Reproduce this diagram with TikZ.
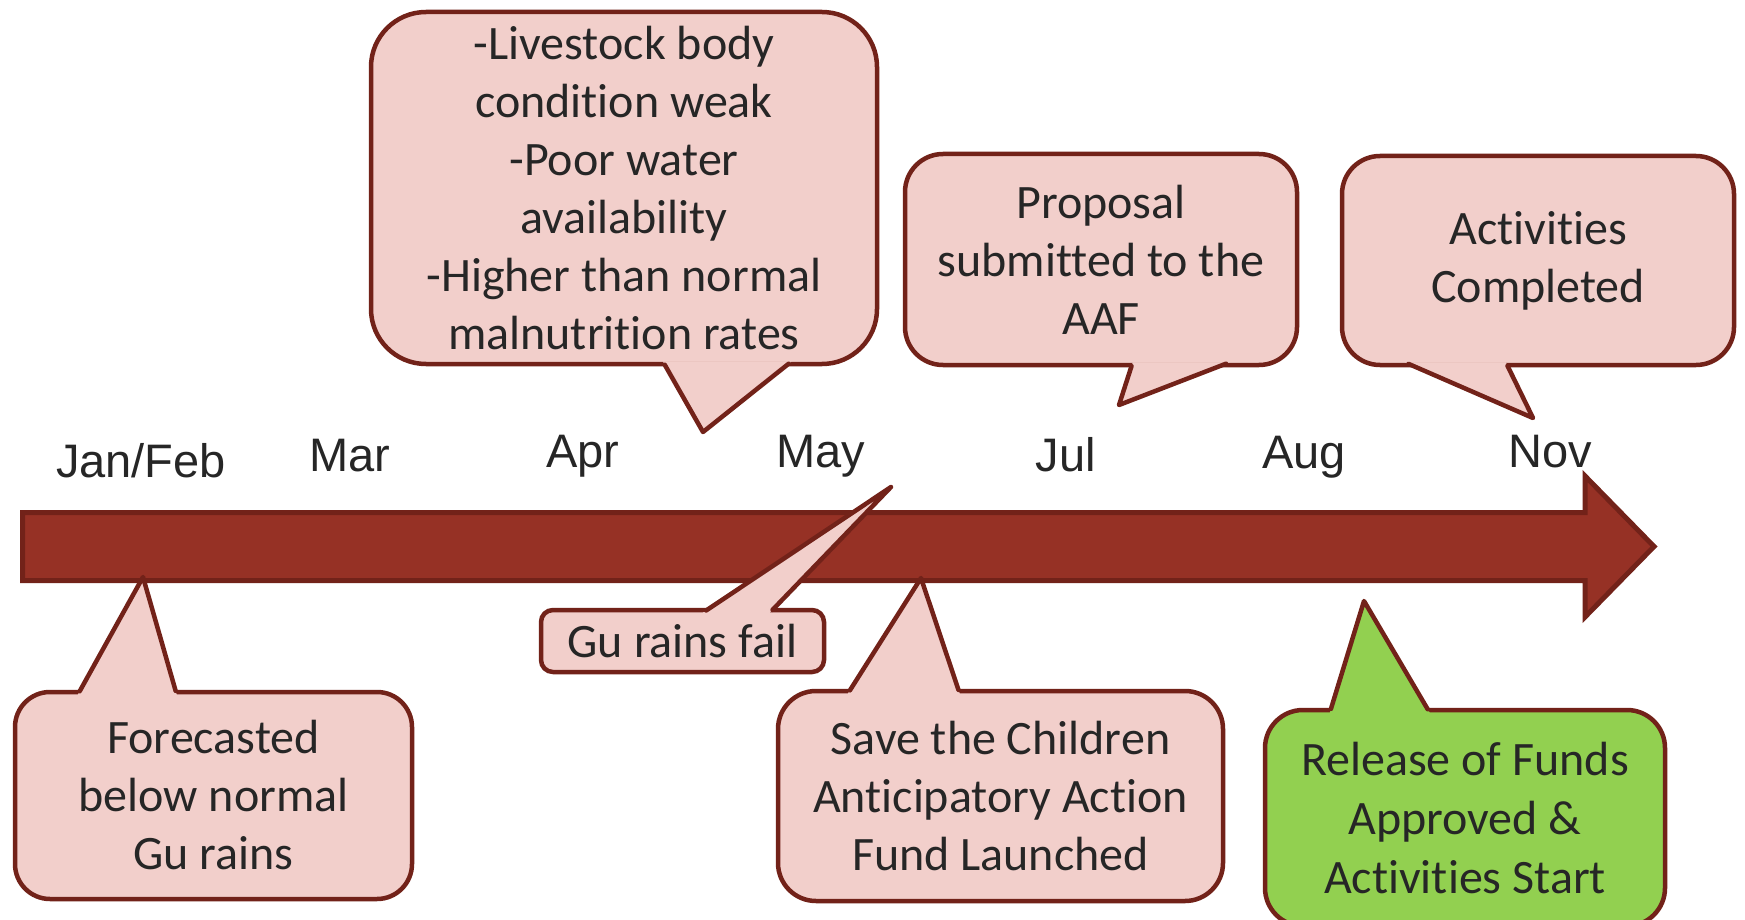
\documentclass[tikz,border=0pt]{standalone}
\usepackage{fontspec}
\setmainfont{Carlito}[Ligatures=NoCommon]
\newfontfamily\monthfont{Liberation Sans}
\definecolor{bubblepink}{HTML}{F2CFCB}
\definecolor{bubblegreen}{HTML}{92D050}
\definecolor{edgebrown}{HTML}{722219}
\definecolor{arrowred}{HTML}{963125}
\definecolor{textgray}{HTML}{262626}
% tail of a speech bubble: base point, tip, base point, fill colour
\newcommand{\bubbletail}[4]{%
  \fill[#4] #1 -- #2 -- #3 -- cycle;
  \draw[tailedge] #1 -- #2 -- #3;
}

\begin{document}
\begin{tikzpicture}[x=1pt,y=-1pt,
    bubble/.style={draw=edgebrown, fill=bubblepink, line width=4.5pt,
      rounded corners=38pt, inner sep=0pt, align=center, text=textgray,
      font=\fontsize{48}{58}\selectfont},
    tailedge/.style={draw=edgebrown, line width=4.5pt, line cap=round,
      line join=round, shorten <=4pt, shorten >=4pt},
    month/.style={anchor=base, text=textgray,
      font=\monthfont\fontsize{47}{56}\selectfont}]
    \useasboundingbox (0,0) rectangle (1745,920);
    % Draw the time arrow
    \draw[line width=5pt, draw=edgebrown, fill=arrowred, line join=miter]
      (22.5,512.5) -- (1585,512.5) -- (1585,476) -- (1654,546.5)
      -- (1585,617) -- (1585,580.5) -- (22.5,580.5) -- cycle;
    % Label the months
    \node[month] (janfeb) at (141,477) {Jan/Feb};
    \node[month] (mar) at (350,471) {Mar};
    \node[month] (apr) at (583,467) {Apr};
    \node[month] (may) at (821,467) {May};
    \node[month] (jul) at (1066,471) {Jul};
    \node[month] (aug) at (1304,468) {Aug};
    \node[month] (nov) at (1550,467) {Nov};
    % Bubbles above the arrow
    \node[bubble, rounded corners=55pt, minimum width=506, minimum height=352]
      (signs) at (624,188) {-Livestock body\\condition weak\\-Poor water\\
      availability\\-Higher than normal\\malnutrition rates};
    \coordinate (signs tip) at (703,432);
    \bubbletail{([xshift=294pt,yshift=5pt]signs.south west)}{(signs tip)}
      {([xshift=423pt,yshift=5pt]signs.south west)}{bubblepink}
    \node[bubble, minimum width=392, minimum height=211]
      (proposal) at (1101,259.5) {Proposal\\submitted to the\\AAF};
    \coordinate (proposal tip) at (1119,405);
    \bubbletail{([xshift=230pt,yshift=5pt]proposal.south west)}{(proposal tip)}
      {([xshift=327pt,yshift=5pt]proposal.south west)}{bubblepink}
    \node[bubble, minimum width=392, minimum height=209]
      (done) at (1538,260.5) {Activities\\Completed};
    \coordinate (done tip) at (1533,418);
    \bubbletail{([xshift=65pt,yshift=5pt]done.south west)}{(done tip)}
      {([xshift=166pt,yshift=5pt]done.south west)}{bubblepink}
    % Bubbles below the arrow
    \node[bubble, minimum width=397, minimum height=207, rounded corners=35pt]
      (fcst) at (213.5,795.5) {Forecasted\\below normal\\Gu rains};
    \coordinate (fcst tip) at (143,577);
    \bubbletail{([xshift=65pt,yshift=-5pt]fcst.north west)}{(fcst tip)}
      {([xshift=164pt,yshift=-5pt]fcst.north west)}{bubblepink}
    \node[bubble, minimum width=283, minimum height=62, rounded corners=12pt]
      (gufail) at (682.5,641) {Gu rains fail};
    \coordinate (gufail tip) at (891,487);
    \bubbletail{([xshift=164pt,yshift=-5pt]gufail.north west)}{(gufail tip)}
      {([xshift=231pt,yshift=-5pt]gufail.north west)}{bubblepink}
    \node[bubble, minimum width=445, minimum height=210]
      (launch) at (1000.5,796) {Save the Children\\Anticipatory Action\\Fund Launched};
    \coordinate (launch tip) at (921,578);
    \bubbletail{([xshift=72pt,yshift=-5pt]launch.north west)}{(launch tip)}
      {([xshift=184pt,yshift=-5pt]launch.north west)}{bubblepink}
    \node[bubble, fill=bubblegreen, minimum width=400, minimum height=216,
      font=\fontsize{48}{59}\selectfont]
      (release) at (1465,818) {Release of Funds\\Approved \&\\Activities Start};
    \coordinate (release tip) at (1364,601);
    \bubbletail{([xshift=67pt,yshift=-5pt]release.north west)}{(release tip)}
      {([xshift=167pt,yshift=-5pt]release.north west)}{bubblegreen}
\end{tikzpicture}
\end{document}
